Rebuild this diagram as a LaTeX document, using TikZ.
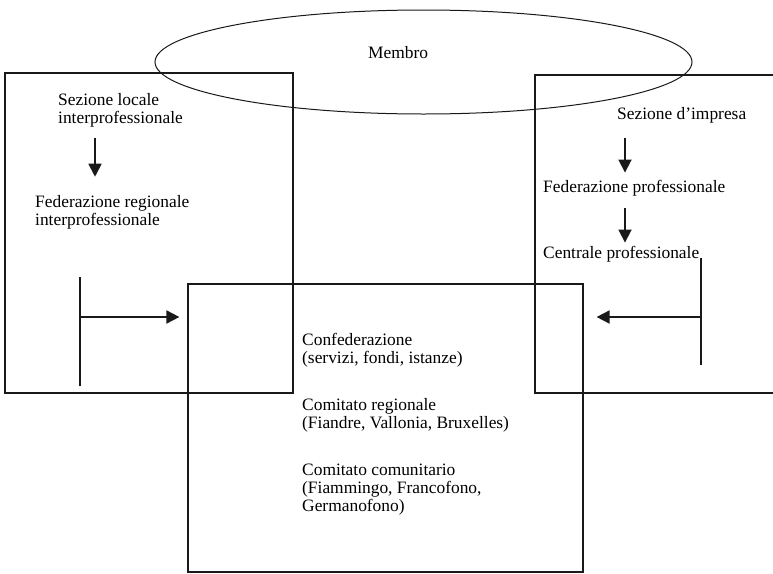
\documentclass[tikz,border=0pt]{standalone}
\usepackage{fontspec}
\setmainfont{Liberation Serif}
\usetikzlibrary{shapes.geometric}
\usetikzlibrary{arrows.meta}
\definecolor{tratto}{rgb}{0.1,0.1,0.1}

\begin{document}
\begin{tikzpicture}[x=1pt, y=-1pt,
  testo/.style={anchor=base west, inner sep=0pt, align=left, font=\fontsize{17.4}{18}\selectfont},
  riquadro/.style={draw=tratto, line width=1.2pt, inner sep=0pt},
  freccia/.style={draw=tratto, line width=1.8pt, -{Triangle[length=13pt,width=13pt]}},
  asta/.style={draw=tratto, line width=1.8pt}]
\useasboundingbox (0,0) rectangle (773,573);
% cornici
\node[riquadro, minimum width=288pt, minimum height=320pt] (locale) at (149,233) {};
\node[riquadro, minimum width=260pt, minimum height=318pt] (impresa) at (665,234) {};
\node[riquadro, minimum width=395pt, minimum height=288pt] (conf) at (385.5,428) {};
\node[draw=tratto, line width=1pt, ellipse, minimum width=537pt, minimum height=104pt] (socio) at (423.5,62) {};
\node[testo] (membro) at (368,58) {Membro};
% colonna sinistra (base = ultima riga)
\node[testo] (sezloc) at (58,123) {Sezione locale\\interprofessionale};
\node[testo] (fedreg) at (35,225) {Federazione regionale\\interprofessionale};
\draw[freccia] ([shift={(37,11)}]sezloc.south west) -- ([shift={(60,-18)}]fedreg.north west);
% colonna destra
\node[testo] (sezimp) at (617,119) {Sezione d’impresa};
\node[testo] (fedprof) at (543,192) {Federazione professionale};
\node[testo] (centprof) at (543,258) {Centrale professionale};
\draw[freccia] ([shift={(8,15)}]sezimp.south west) -- ([shift={(82,-7)}]fedprof.north west);
\draw[freccia] ([shift={(82,12)}]fedprof.south west) -- ([shift={(82,-3)}]centprof.north west);
% centro
\node[testo] (confed) at (302,363) {Confederazione\\(servizi, fondi, istanze)};
\node[testo] (comreg) at (302,428) {Comitato regionale\\(Fiandre, Vallonia, Bruxelles)};
\node[testo] (comcom) at (302,511) {Comitato comunitario\\(Fiammingo, Francofono,\\Germanofono)};
% raccordi a T
\coordinate (giuntosx) at (80,317);
\coordinate (giuntodx) at (701,317);
\draw[asta] ([yshift=-69pt]giuntosx) -- ([yshift=40pt]giuntosx);
\draw[freccia, shorten >=8pt] (giuntosx) -- (giuntosx -| conf.west);
\draw[asta] ([yshift=-48pt]giuntodx) -- ([yshift=59pt]giuntodx);
\draw[freccia, shorten >=13pt] (giuntodx) -- (giuntodx -| conf.east);
\end{tikzpicture}
\end{document}
